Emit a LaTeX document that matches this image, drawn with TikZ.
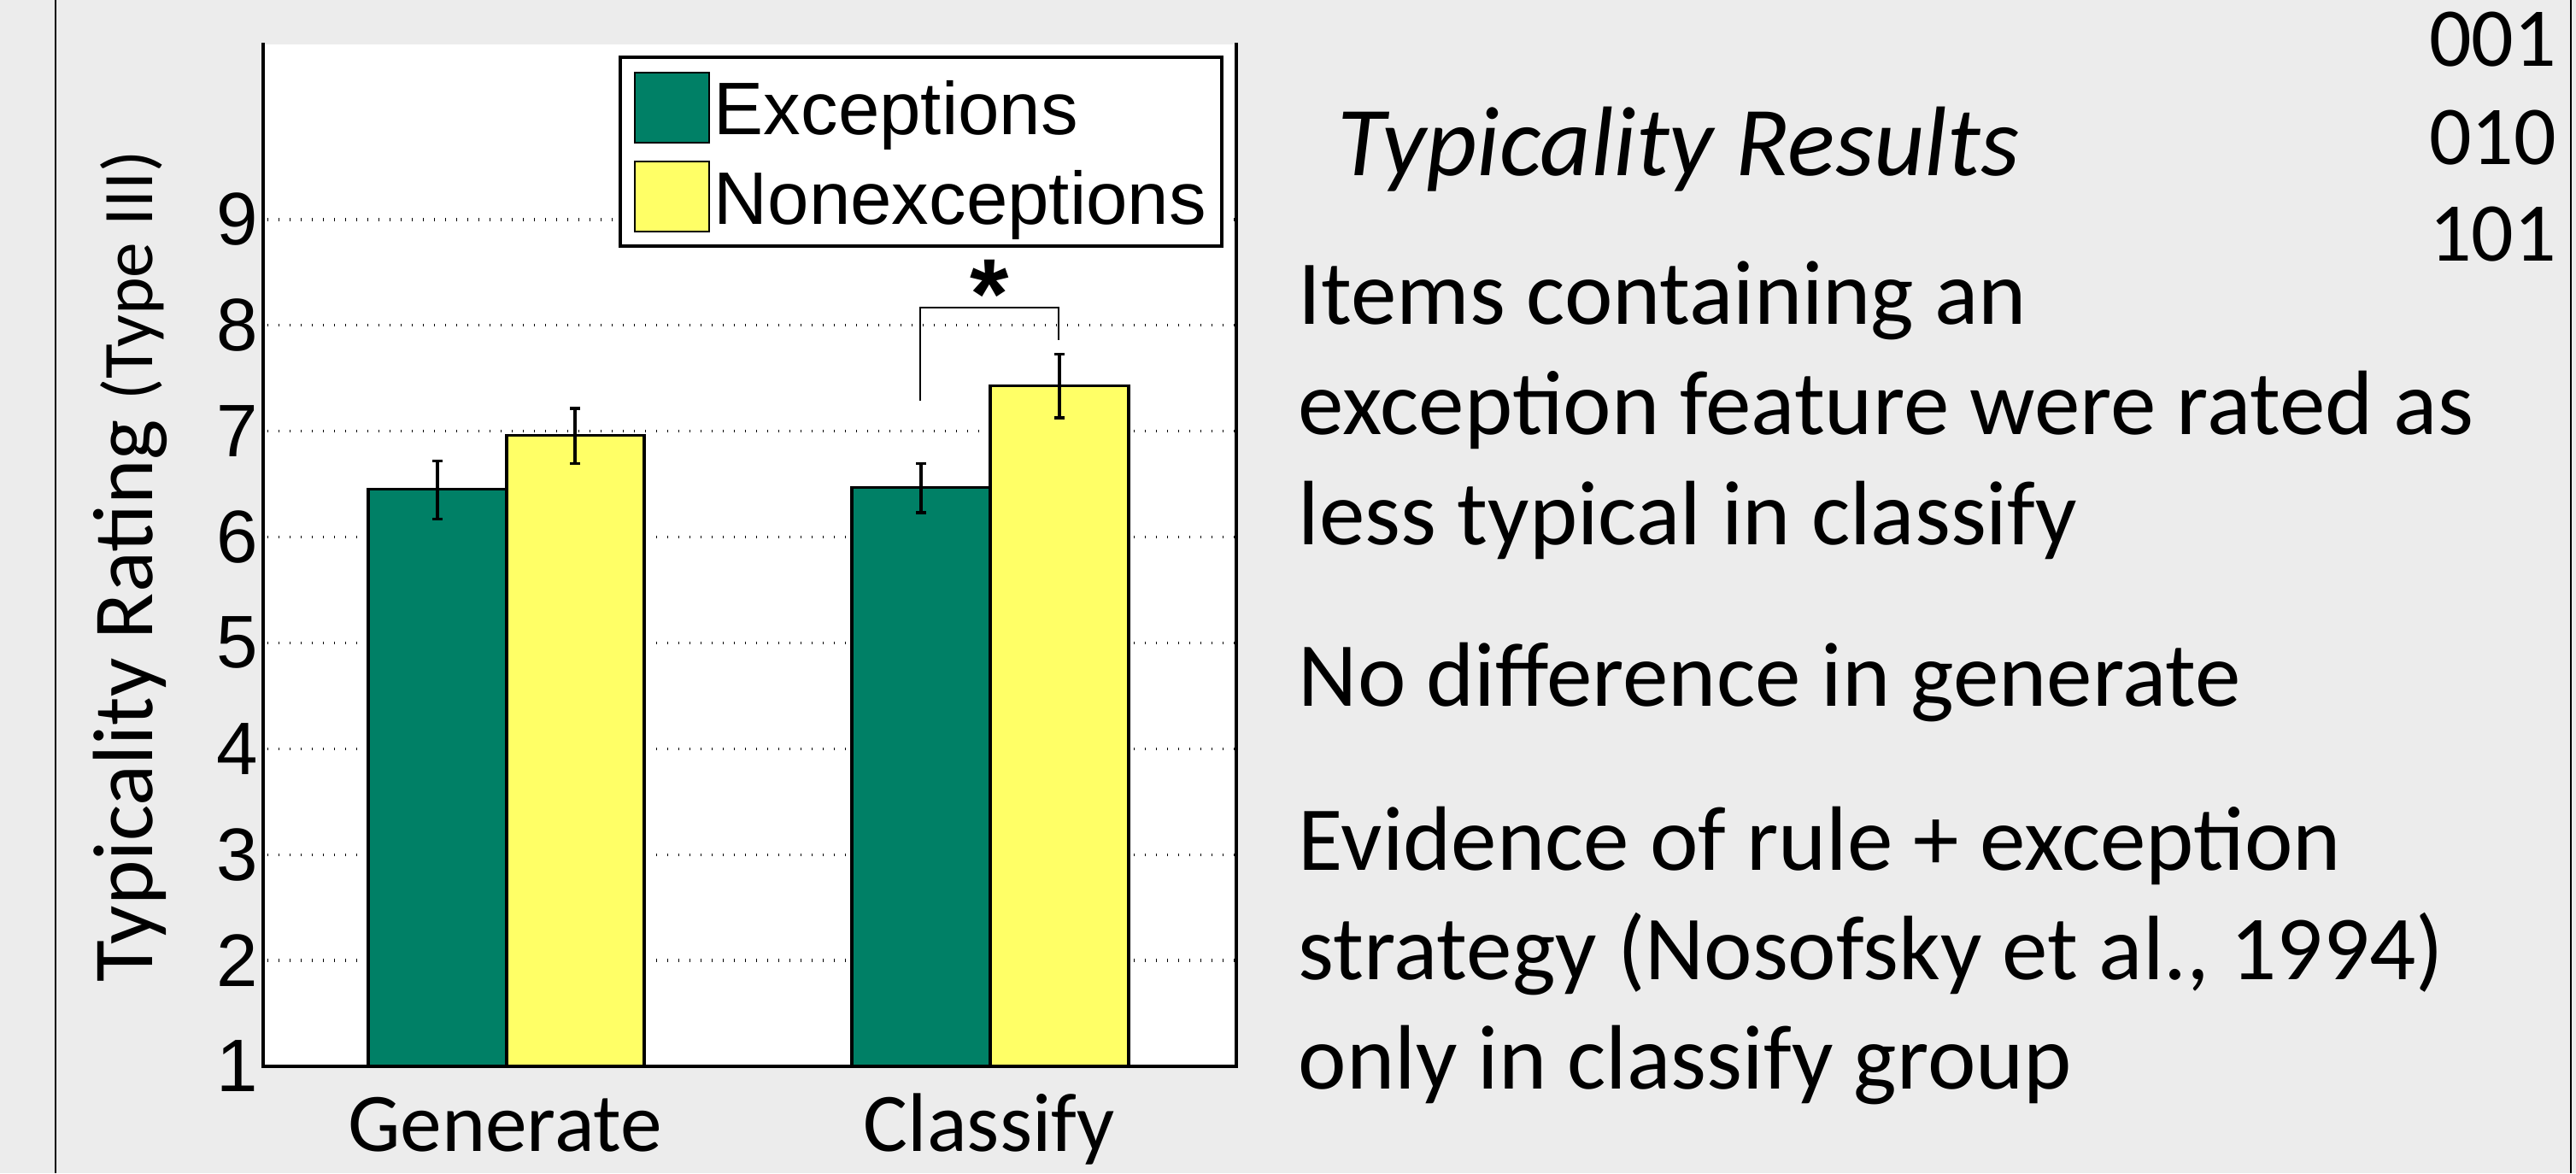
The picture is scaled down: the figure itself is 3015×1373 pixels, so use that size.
\documentclass[tikz,border=0pt]{standalone}
\usepackage{fontspec}
\setmainfont{Carlito}
\newfontfamily\chartfont{Liberation Sans}
\definecolor{slidegray}{HTML}{ECECEC}
\definecolor{excgreen}{RGB}{0,128,102}
\definecolor{nonyellow}{RGB}{255,255,102}

% one error bar: x, low value, high value
\newcommand\errorbar[3]{%
  \draw[errline] (#1,#2) -- (#1,#3)
    (#1-6,#2) -- (#1+6,#2) (#1-6,#3) -- (#1+6,#3);}

\begin{document}
\begin{tikzpicture}[x=0.24pt,y=-0.24pt]
\tikzset{
  frameline/.style={line width=0.5pt},
  axisline/.style={line width=1pt, line cap=rect},
  gridline/.style={line width=0.8pt, dash pattern=on 0.32pt off 2.8pt},
  barbox/.style={line width=0.75pt, draw=black},
  errline/.style={line width=0.75pt},
  bracketline/.style={line width=0.6pt},
  legendframe/.style={line width=1pt, draw=black, fill=white},
  swatch/.style={line width=0.5pt, draw=black},
  ticklabel/.style={anchor=east, inner sep=0pt, font=\chartfont\fontsize{20.9}{24}\selectfont},
  legendtext/.style={anchor=base west, inner sep=0pt, font=\chartfont\fontsize{20.9}{24}\selectfont},
  startext/.style={anchor=base, inner sep=0pt, font=\chartfont\bfseries\fontsize{28}{32}\selectfont},
  grouplabel/.style={anchor=base, inner sep=0pt, font=\fontsize{23.4}{27}\selectfont},
  bodytext/.style={anchor=base west, inner sep=0pt, font=\fontsize{25.7}{30}\selectfont},
  headtext/.style={anchor=base west, inner sep=0pt, font=\itshape\fontsize{27.8}{32}\selectfont},
  codetext/.style={anchor=base east, inner sep=0pt, font=\fontsize{23.5}{28}\selectfont},
}
\useasboundingbox (0,0) rectangle (3015,1373);

% slide background and frame sides
\fill[slidegray] (0,0) rectangle (3015,1373);
\draw[frameline] (65,0) -- (65,1373);
\draw[frameline] (3009,0) -- (3009,1373);

% plot area
\fill[white] (308,52) rectangle (1447,1248);

% data coordinates: x in pixels, y in rating units
\begin{scope}[shift={(0,1371.9)}, y=29.736pt]
  \foreach \v in {2,...,9}
    \draw[gridline] (313,\v) -- (1445,\v);

  % Generate
  \draw[barbox, fill=excgreen]  (431,1) rectangle (593,6.45);
  \draw[barbox, fill=nonyellow] (593,1) rectangle (754,6.96);
  % Classify
  \draw[barbox, fill=excgreen]  (997,1) rectangle (1159,6.47);
  \draw[barbox, fill=nonyellow] (1159,1) rectangle (1321,7.43);

  \errorbar{512}{6.173}{6.722}
  \errorbar{673}{6.698}{7.215}
  \errorbar{1078}{6.230}{6.698}
  \errorbar{1240}{7.126}{7.731}

  \foreach \v in {1,...,9}
    \node[ticklabel] (tick\v) at (303,\v) {\v};
\end{scope}

% axes
\draw[axisline] (308,52) -- (308,1248) -- (1447,1248) -- (1447,52);

% significance bracket
\coordinate (brA) at (1077,469);
\coordinate (brB) at (1239,398);
\draw[bracketline] (brA) -- (brA |- 0,360) -- (brB |- 0,360) -- (brB);
\node[startext] (star) at (1158,384) {*};

% legend
\draw[legendframe] (726,67) rectangle (1430,288);
\draw[swatch, fill=excgreen]  (743,85) rectangle (830,167);
\draw[swatch, fill=nonyellow] (743,189) rectangle (830,271);
\node[legendtext] (legexc) at (835,157) {Exceptions};
\node[legendtext] (legnon) at (835,262) {Nonexceptions};

% axis labels
\node[grouplabel] (xgen) at (591,1347) {Generate};
\node[grouplabel] (xcls) at (1158,1347) {Classify};
\node[rotate=90, anchor=base, inner sep=0pt] (ylabel) at (178,663)
  {\fontsize{24}{28}\selectfont Typicality Rating \fontsize{20}{24}\selectfont(Type III)};

% results text
\node[headtext] (head) at (1565,205) {Typicality Results};
\node[codetext] (code1) at (2993,77) {001};
\node[codetext] (code2) at (2993,192) {010};
\node[codetext] (code3) at (2993,305) {101};

\node[bodytext] (l1) at (1519,379) {Items containing an};
\node[bodytext] (l2) at (1519,508) {exception feature were rated as};
\node[bodytext] (l3) at (1519,637) {less typical in classify};
\node[bodytext] (l4) at (1519,826) {No difference in generate};
\node[bodytext] (l5) at (1519,1018) {Evidence of rule + exception};
\node[bodytext] (l6) at (1519,1146) {strategy (Nosofsky et al., 1994)};
\node[bodytext] (l7) at (1519,1274) {only in classify group};
\end{tikzpicture}
\end{document}
